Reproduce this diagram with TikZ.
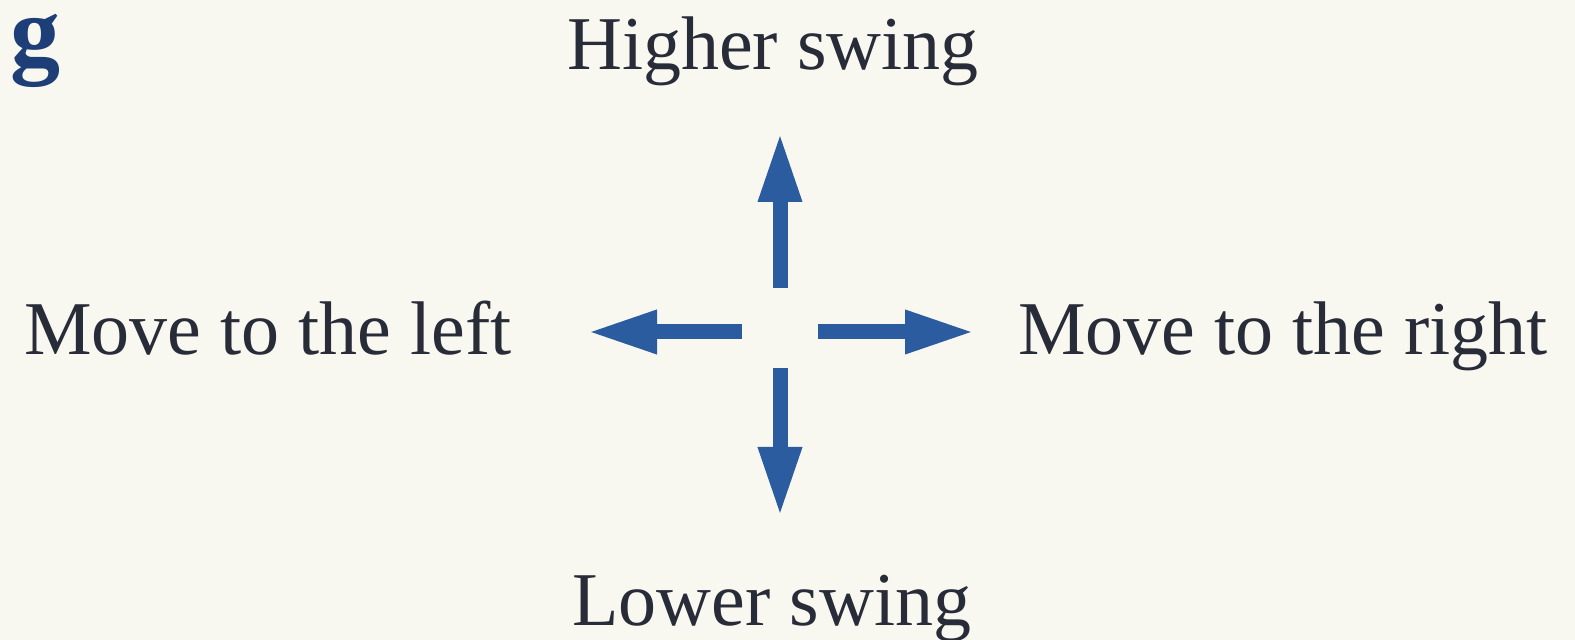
\documentclass[tikz,border=0pt]{standalone}
\usepackage{fontspec}
\setmainfont{Liberation Serif}
\usetikzlibrary{arrows.meta, positioning}
\definecolor{paper}{RGB}{249,248,240}
\definecolor{ink}{RGB}{40,44,56}
\definecolor{arrowblue}{RGB}{44,92,160}
\definecolor{headblue}{RGB}{30,62,120}
\begin{document}
\begin{tikzpicture}[x=0.5pt, y=-0.5pt,
    lbl/.style={font=\fontsize{38}{44}\selectfont, text=ink, inner sep=0pt},
    ar/.style={-{Triangle[length=35pt, width=20pt]}, line width=7.5pt, draw=arrowblue}
]
\fill[paper] (0,0) rectangle (1575,640);
\useasboundingbox (0,0) rectangle (1575,640);
% partial heading letter
\node[font=\bfseries\fontsize{50}{58}\selectfont, text=headblue, anchor=base west, inner sep=0pt] (fig) at (10,66) {g};
% labels
\node[lbl, anchor=base] (hi) at (773,70)  {Higher swing};
\node[lbl, anchor=base] (lo) at (772,626) {Lower swing};
\node[lbl, anchor=base east] (lf) at (512,355) {Move to the left};
\node[lbl, anchor=base] (rt) at (1283,355) {Move to the right};
% arrows
\coordinate (c) at (780,332);
\coordinate (up0) at (780,288); \coordinate (up1) at (780,132);
\coordinate (dn0) at (780,368); \coordinate (dn1) at (780,517);
\coordinate (lf0) at (742,332); \coordinate (lf1) at (587,332);
\coordinate (rt0) at (818,332); \coordinate (rt1) at (975,332);
\draw[ar] (up0) -- (up1);
\draw[ar] (dn0) -- (dn1);
\draw[ar] (lf0) -- (lf1);
\draw[ar] (rt0) -- (rt1);
\end{tikzpicture}
\end{document}
